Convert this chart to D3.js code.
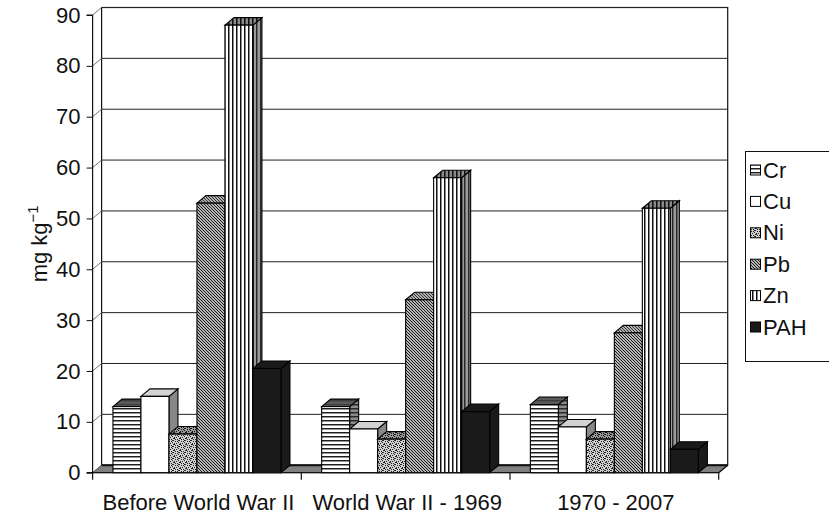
<!DOCTYPE html>
<html>
<head>
<meta charset="utf-8">
<script src="https://cdn.jsdelivr.net/npm/d3@7"></script>
<style>
  html, body { margin: 0; padding: 0; background: #fff; }
  svg { display: block; font-family: "Liberation Sans", Arial, Helvetica, sans-serif; }
</style>
</head>
<body>
<svg id="chart" width="829" height="517"></svg>
<script>
// Heavy-metal and PAH concentrations by period
const categories = ["Before World War II", "World War II - 1969", "1970 - 2007"];
const seriesNames = ["Cr", "Cu", "Ni", "Pb", "Zn", "PAH"];
const Cr  = [13.0, 13.0, 13.4];
const Cu  = [15.0, 8.6, 9.0];
const Ni  = [7.6, 6.6, 6.6];
const Pb  = [53.0, 34.0, 27.5];
const Zn  = [88.0, 58.0, 52.0];
const PAH = [20.5, 12.0, 4.6];
const seriesValues = [Cr, Cu, Ni, Pb, Zn, PAH];
const yTicks = [0, 10, 20, 30, 40, 50, 60, 70, 80, 90];
const yLabel = "mg kg";

const svg = d3.select("#chart");
const FONT = 22;

// plot frame (front plane) and depth offset of the 3-D box
const pLeft = 92.6, pRight = 718.7, pTop = 15, pBottom = 472.7;
const DX = 9, DY = -7.5;

const y = d3.scaleLinear().domain([0, 90]).range([pBottom, pTop]);
const x0 = d3.scaleBand().domain(categories).range([pLeft, pRight]).padding(0);
const x1 = d3.scaleBand().domain(seriesNames).range([0, x0.bandwidth()])
  .paddingInner(0).paddingOuter(0.727);

// ---------- fill patterns ----------
const defs = svg.append("defs");
function linePattern(id, bg, fg, size, lines, sw) {
  const p = defs.append("pattern").attr("id", id).attr("patternUnits", "userSpaceOnUse")
    .attr("width", size).attr("height", size);
  p.append("rect").attr("width", size).attr("height", size).attr("fill", bg);
  lines.forEach(l => p.append("line").attr("x1", l[0]).attr("y1", l[1]).attr("x2", l[2]).attr("y2", l[3])
    .attr("stroke", fg).attr("stroke-width", sw));
  return p;
}
// Cr: horizontal lines
linePattern("crF", "#fff", "#111", 4, [[0, 0.75, 4, 0.75]], 1.4);
linePattern("crT", "#5a5a5a", "#333", 4, [[0, 0.75, 4, 0.75]], 1);
linePattern("crS", "#8a8a8a", "#222", 4, [[0, 0.75, 4, 0.75]], 1.4);
// Pb: back-diagonal lines
function diag(id, bg, fg, sw) {
  linePattern(id, bg, fg, 3, [[0, 0, 3, 3], [-1, 2, 1, 4], [2, -1, 4, 1]], sw);
}
diag("pbF", "#fff", "#111", 1.15);
diag("pbT", "#b0b0b0", "#333", 1);
diag("pbS", "#777", "#111", 1);
// Zn: vertical lines
linePattern("znF", "#fff", "#111", 4, [[0.75, 0, 0.75, 4]], 1.5);
linePattern("znT", "#8a8a8a", "#111", 4, [[0.75, 0, 0.75, 4]], 1.6);
linePattern("znS", "#9a9a9a", "#222", 4, [[0.75, 0, 0.75, 4]], 1.4);
// Ni: stipple
const dots = [[0, 0], [3, 1], [1, 3], [4, 4], [2, 5], [5, 2], [0, 5], [5, 0], [3, 3], [1, 1], [4, 2]];
function stipple(id, bg, fg) {
  const p = defs.append("pattern").attr("id", id).attr("patternUnits", "userSpaceOnUse")
    .attr("width", 6).attr("height", 6);
  p.append("rect").attr("width", 6).attr("height", 6).attr("fill", bg);
  dots.forEach(d => p.append("rect").attr("x", d[0]).attr("y", d[1]).attr("width", 1).attr("height", 1).attr("fill", fg));
}
stipple("niF", "#d0d0d0", "#222");
stipple("niT", "#999", "#111");
stipple("niS", "#777", "#111");

const fills = {
  Cr:  { f: "url(#crF)", t: "url(#crT)", s: "url(#crS)" },
  Cu:  { f: "#ffffff",   t: "#d2d2d2",  s: "#878787" },
  Ni:  { f: "url(#niF)", t: "url(#niT)", s: "url(#niS)" },
  Pb:  { f: "url(#pbF)", t: "url(#pbT)", s: "url(#pbS)" },
  Zn:  { f: "url(#znF)", t: "url(#znT)", s: "url(#znS)" },
  PAH: { f: "#1a1a1a",   t: "#1a1a1a",  s: "#1a1a1a" }
};

// ---------- walls, floor and gridlines ----------
const g = svg.append("g");
// back wall
g.append("rect").attr("x", pLeft + DX).attr("y", pTop + DY)
  .attr("width", pRight - pLeft).attr("height", pBottom - pTop)
  .attr("fill", "#fff").attr("stroke", "#111").attr("stroke-width", 1.2);
// gridlines on back wall and side wall
yTicks.forEach(t => {
  if (t > 0) {
    g.append("line").attr("x1", pLeft + DX).attr("x2", pRight + DX)
      .attr("y1", y(t) + DY).attr("y2", y(t) + DY)
      .attr("stroke", "#222").attr("stroke-width", 1);
  }
  g.append("line").attr("x1", pLeft).attr("y1", y(t))
    .attr("x2", pLeft + DX).attr("y2", y(t) + DY)
    .attr("stroke", "#777").attr("stroke-width", 1);
});
// floor
g.append("path")
  .attr("d", `M${pLeft},${pBottom}L${pLeft + DX},${pBottom + DY}L${pRight + DX},${pBottom + DY}L${pRight},${pBottom}Z`)
  .attr("fill", "#808080").attr("stroke", "#555").attr("stroke-width", 0.8);
g.append("line").attr("x1", pLeft + DX).attr("x2", pRight + DX)
  .attr("y1", pBottom + DY).attr("y2", pBottom + DY)
  .attr("stroke", "#111").attr("stroke-width", 2);

// ---------- bars ----------
const bars = svg.append("g").attr("stroke", "#000").attr("stroke-width", 1.1).attr("stroke-linejoin", "miter");
categories.forEach((c, ci) => {
  seriesNames.forEach((s, si) => {
    const v = seriesValues[si][ci];
    const bx = x0(c) + x1(s), w = x1.bandwidth();
    const yTopV = y(v), yBase = y(0);
    const f = fills[s];
    bars.append("path")
      .attr("d", `M${bx + w},${yTopV}L${bx + w + DX},${yTopV + DY}L${bx + w + DX},${yBase + DY}L${bx + w},${yBase}Z`)
      .attr("fill", f.s);
    bars.append("path")
      .attr("d", `M${bx},${yTopV}L${bx + DX},${yTopV + DY}L${bx + w + DX},${yTopV + DY}L${bx + w},${yTopV}Z`)
      .attr("fill", f.t);
    bars.append("rect").attr("x", bx).attr("y", yTopV).attr("width", w).attr("height", yBase - yTopV)
      .attr("fill", f.f);
  });
});

// ---------- axes ----------
const yAxis = svg.append("g").attr("transform", `translate(${pLeft},0)`)
  .call(d3.axisLeft(y).tickValues(yTicks).tickSize(6).tickPadding(6));
yAxis.select(".domain").attr("stroke", "#111").attr("stroke-width", 1.2)
  .attr("d", `M-6,${pTop}H0V${pBottom}H-6`);
yAxis.selectAll(".tick line").attr("stroke", "#111");
yAxis.selectAll("text").attr("font-size", FONT).attr("fill", "#111")
  .style("font-family", "Liberation Sans, Arial, sans-serif");

const xAxis = svg.append("g").attr("transform", `translate(0,${pBottom})`);
xAxis.append("line").attr("x1", pLeft).attr("x2", pRight).attr("y1", 0).attr("y2", 0)
  .attr("stroke", "#111").attr("stroke-width", 1.2);
[pLeft, ...categories.map(c => x0(c) + x0.bandwidth())].forEach(xx => {
  xAxis.append("line").attr("x1", xx).attr("x2", xx).attr("y1", 0).attr("y2", 7)
    .attr("stroke", "#111").attr("stroke-width", 1.2);
});
// right-hand floor edge
svg.append("line").attr("x1", pRight).attr("y1", pBottom).attr("x2", pRight + DX).attr("y2", pBottom + DY)
  .attr("stroke", "#111").attr("stroke-width", 1.2);
xAxis.selectAll("text.cat").data(categories).join("text").attr("class", "cat")
  .attr("x", c => x0(c) + x0.bandwidth() / 2 + DX / 2 - 3)
  .attr("y", 37).attr("text-anchor", "middle").attr("font-size", FONT).attr("fill", "#111")
  .text(c => c);

// y-axis title with superscript
const yTitle = svg.append("text").attr("transform", `translate(47,${(pTop + pBottom) / 2}) rotate(-90)`)
  .attr("text-anchor", "middle").attr("font-size", FONT).attr("fill", "#111");
yTitle.append("tspan").text(yLabel);
yTitle.append("tspan").attr("dy", -9).attr("font-size", FONT * 0.68).text("\u22121");

// ---------- legend ----------
const lg = svg.append("g");
lg.append("rect").attr("x", 745.5).attr("y", 151.5).attr("width", 90).attr("height", 210)
  .attr("fill", "#fff").attr("stroke", "#111").attr("stroke-width", 1);
seriesNames.forEach((s, i) => {
  const cy = 170 + i * 31.4;
  lg.append("rect").attr("x", 750.5).attr("y", cy - 5).attr("width", 10).attr("height", 10)
    .attr("fill", fills[s].f).attr("stroke", "#000").attr("stroke-width", 1);
  lg.append("text").attr("x", 763).attr("y", cy + 7.5).attr("font-size", FONT).attr("fill", "#111").text(s);
});
</script>
</body>
</html>
